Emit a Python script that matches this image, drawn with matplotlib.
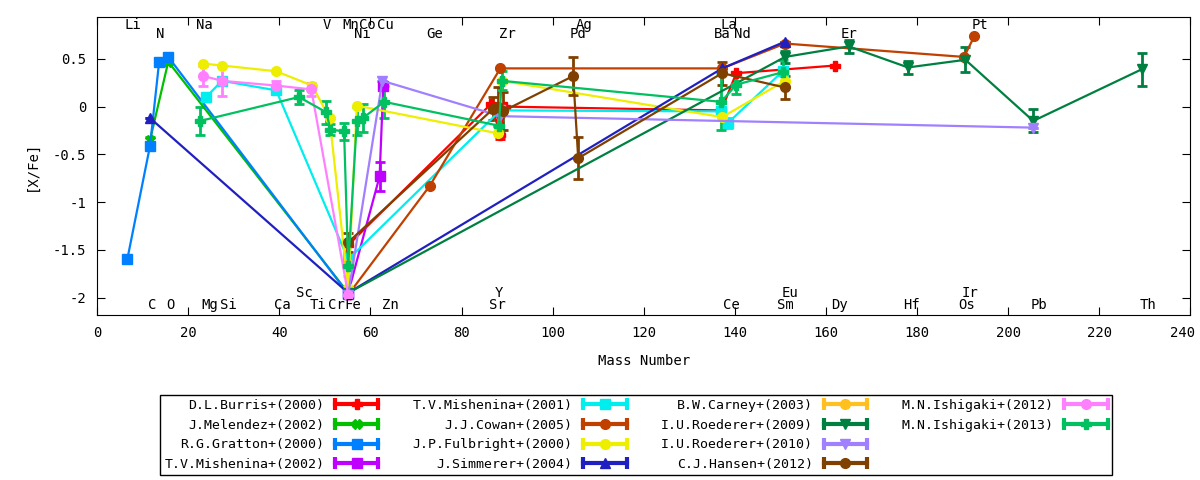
import matplotlib
matplotlib.use("Agg")
import matplotlib.pyplot as plt
from matplotlib.lines import Line2D
from matplotlib.legend_handler import HandlerBase
from matplotlib.transforms import ScaledTranslation

plt.rcParams['font.family'] = ['DejaVu Sans Mono']
plt.rcParams['font.size'] = 10

# --- data (mass number, [X/Fe], error) ---
burris_m = [55.1, 86.5, 88.5, 89.5, 137.0, 140.3, 162.0]
burris_v = [-1.45, 0.03, -0.30, 0.00, -0.04, 0.35, 0.43]
burris_e = [0, 0, 0.04, 0, 0, 0, 0]

melendez_m = [11.6, 15.6, 55.1]
melendez_v = [-0.35, 0.47, -1.95]
melendez_e = [0.03, 0, 0]

gratton_m = [6.6, 11.6, 13.6, 15.6, 55.1]
gratton_v = [-1.60, -0.41, 0.47, 0.52, -1.96]
gratton_e = [0, 0, 0, 0, 0]

mish02_m = [55.1, 62.0, 62.8]
mish02_v = [-1.95, -0.73, 0.22]
mish02_e = [0, 0.15, 0.03]

mish01_m = [23.9, 27.4, 39.3, 55.1, 88.5, 137.0, 138.5, 150.5]
mish01_v = [0.10, 0.27, 0.17, -1.60, -0.04, -0.05, -0.17, 0.37]
mish01_e = [0, 0, 0, 0, 0, 0, 0.05, 0]

cowan_m = [55.1, 73.0, 88.5, 137.2, 151.0, 190.3, 192.6]
cowan_v = [-1.97, -0.83, 0.40, 0.40, 0.66, 0.52, 0.74]
cowan_e = [0, 0, 0, 0, 0, 0, 0]

fulb_m = [23.3, 27.4, 39.3, 47.2, 51.0, 55.1, 57.0, 88.0, 88.8, 137.2, 151.0]
fulb_v = [0.45, 0.43, 0.37, 0.22, -0.12, -1.90, 0.01, -0.28, 0.27, -0.11, 0.27]
fulb_e = [0, 0, 0, 0, 0, 0, 0, 0, 0, 0, 0]

simm_m = [11.6, 55.1, 137.2, 151.0]
simm_v = [-0.12, -1.95, 0.40, 0.68]
simm_e = [0, 0, 0, 0]

carney_m = [55.1]
carney_v = [-1.65]
carney_e = [0.12]

roed09_m = [55.1, 151.0, 165.0, 178.0, 190.6, 205.5, 229.3]
roed09_v = [-1.95, 0.52, 0.63, 0.41, 0.49, -0.15, 0.39]
roed09_e = [0, 0.06, 0.07, 0.07, 0.13, 0.12, 0.17]

roed10_m = [55.1, 62.6, 88.5, 205.5]
roed10_v = [-1.97, 0.27, -0.10, -0.22]
roed10_e = [0, 0, 0, 0]

hansen_m = [55.1, 87.0, 88.0, 89.0, 104.5, 105.6, 137.2, 151.0]
hansen_v = [-1.42, -0.02, 0.00, -0.05, 0.32, -0.54, 0.35, 0.20]
hansen_e = [0.1, 0.12, 0.2, 0.2, 0.2, 0.22, 0.12, 0.12]

ishi12_m = [23.3, 27.4, 39.3, 47.0, 55.1]
ishi12_v = [0.32, 0.27, 0.22, 0.18, -1.97]
ishi12_e = [0.10, 0.16, 0.05, 0.07, 0]

ishi13_m = [22.6, 44.3, 50.3, 51.2, 54.2, 55.1, 57.0, 58.3, 63.0,
            88.2, 88.8, 137.0, 140.3, 150.5]
ishi13_v = [-0.15, 0.10, -0.06, -0.24, -0.26, -1.67, -0.15, -0.12, 0.05,
            -0.20, 0.27, 0.05, 0.23, 0.36]
ishi13_e = [0.15, 0.07, 0.12, 0.06, 0.09, 0.25, 0.15, 0.15, 0.17,
            0.06, 0.10, 0.30, 0.10, 0.13]

series = [
    ("D.L.Burris+(2000)", burris_m, burris_v, burris_e, "#ff0000", "P"),
    ("J.Melendez+(2002)", melendez_m, melendez_v, melendez_e, "#00c000", "X"),
    ("R.G.Gratton+(2000)", gratton_m, gratton_v, gratton_e, "#0080ff", "s"),
    ("T.V.Mishenina+(2002)", mish02_m, mish02_v, mish02_e, "#c000ff", "s"),
    ("T.V.Mishenina+(2001)", mish01_m, mish01_v, mish01_e, "#00eeee", "s"),
    ("J.J.Cowan+(2005)", cowan_m, cowan_v, cowan_e, "#c04000", "o"),
    ("J.P.Fulbright+(2000)", fulb_m, fulb_v, fulb_e, "#eeee00", "o"),
    ("J.Simmerer+(2004)", simm_m, simm_v, simm_e, "#2020c0", "^"),
    ("B.W.Carney+(2003)", carney_m, carney_v, carney_e, "#ffc020", "o"),
    ("I.U.Roederer+(2009)", roed09_m, roed09_v, roed09_e, "#008040", "v"),
    ("I.U.Roederer+(2010)", roed10_m, roed10_v, roed10_e, "#a080ff", "v"),
    ("C.J.Hansen+(2012)", hansen_m, hansen_v, hansen_e, "#804000", "o"),
    ("M.N.Ishigaki+(2012)", ishi12_m, ishi12_v, ishi12_e, "#ff80ff", "o"),
    ("M.N.Ishigaki+(2013)", ishi13_m, ishi13_v, ishi13_e, "#00c060", "P"),
]

# element labels (name, mass position) for the 4 label rows
top_elems = [("Li", 7.9), ("Na", 23.5), ("V", 50.5), ("Mn", 55.6), ("Co", 59.3),
             ("Cu", 63.2), ("Ag", 107.0), ("La", 138.6), ("Pt", 193.9)]
top2_elems = [("N", 13.8), ("Ni", 58.2), ("Ge", 74.0), ("Zr", 90.0), ("Pd", 105.6),
              ("Ba", 137.3), ("Nd", 141.6), ("Er", 165.0)]
bot1_elems = [("Sc", 45.5), ("Y", 88.3), ("Eu", 152.2), ("Ir", 191.7)]
bot2_elems = [("C", 12.1), ("O", 16.0), ("Mg", 24.8), ("Si", 28.8), ("Ca", 40.6),
              ("Ti", 48.5), ("Cr", 52.5), ("Fe", 56.2), ("Zn", 64.3), ("Sr", 87.8),
              ("Ce", 139.2), ("Sm", 151.0), ("Dy", 163.0), ("Hf", 178.7),
              ("Os", 190.8), ("Pb", 206.8), ("Th", 230.6)]


# legend sample like gnuplot: line with end caps and marker in the middle
class CapHandler(HandlerBase):
    def create_artists(self, legend, orig, xdescent, ydescent, width, height,
                       fontsize, trans):
        col = orig.get_color()
        y = height / 2.0 - ydescent
        x0, x1 = -xdescent, width - xdescent
        line = Line2D([x0, x1], [y, y], color=col, lw=3)
        caps = Line2D([x0, x1], [y, y], color=col, ls="none", marker="|",
                      markersize=8, markeredgewidth=3)
        mk = Line2D([(x0 + x1) / 2.0], [y], color=col, ls="none",
                    marker=orig.get_marker(), markersize=7)
        arts = [line, caps, mk]
        for a in arts:
            a.set_transform(trans)
            if not orig.get_visible():
                a.set_visible(False)
        return arts


fig = plt.figure(figsize=(12, 4.8), dpi=100)
ax = fig.add_axes([0.081, 0.344, 0.911, 0.621])

handles = []
labels = []
for name, m, v, e, col, mk in series:
    ax.errorbar(m, v, yerr=e, color=col, marker=mk, markersize=7,
                linewidth=1.6, elinewidth=2, capsize=3.5, capthick=2)
    handles.append(Line2D([0], [0], color=col, marker=mk))
    labels.append(name)
# two empty slots so the last column holds only two entries
for i in range(2):
    h = Line2D([0], [0], color="white", marker="o")
    h.set_visible(False)
    handles.append(h)
    labels.append(" ")

for name, x in top_elems:
    ax.text(x, 0.859, name, ha="center", va="center")
for name, x in top2_elems:
    ax.text(x, 0.764, name, ha="center", va="center")
for name, x in bot1_elems:
    ax.text(x, -1.948, name, ha="center", va="center")
for name, x in bot2_elems:
    ax.text(x, -2.073, name, ha="center", va="center")

ax.set_xlim(0, 240)
ax.set_ylim(-2.18, 0.94)
ax.set_xticks(range(0, 241, 20))
ax.set_yticks([-2, -1.5, -1, -0.5, 0, 0.5])
ax.set_yticklabels(["-2", "-1.5", "-1", "-0.5", "0", "0.5"])
ax.tick_params(direction="in", length=6, top=True, right=True, pad=8)
ax.set_xlabel("Mass Number", labelpad=10)
ax.set_ylabel("[X/Fe]", labelpad=10)

# keep the last x tick label inside the picture
last = ax.get_xticklabels()[-1]
last.set_transform(last.get_transform() + ScaledTranslation(-8 / 100, 0, fig.dpi_scale_trans))

fig.legend(handles=handles, labels=labels, loc="center",
           bbox_to_anchor=(0.53, 0.094), ncol=4, markerfirst=False,
           fancybox=False, edgecolor="black", framealpha=1,
           prop={"size": 9.5}, handlelength=3.3, labelspacing=0.5,
           columnspacing=2.6, borderpad=0.3, handletextpad=0.8,
           handler_map={Line2D: CapHandler()})

fig.savefig("out.png")
